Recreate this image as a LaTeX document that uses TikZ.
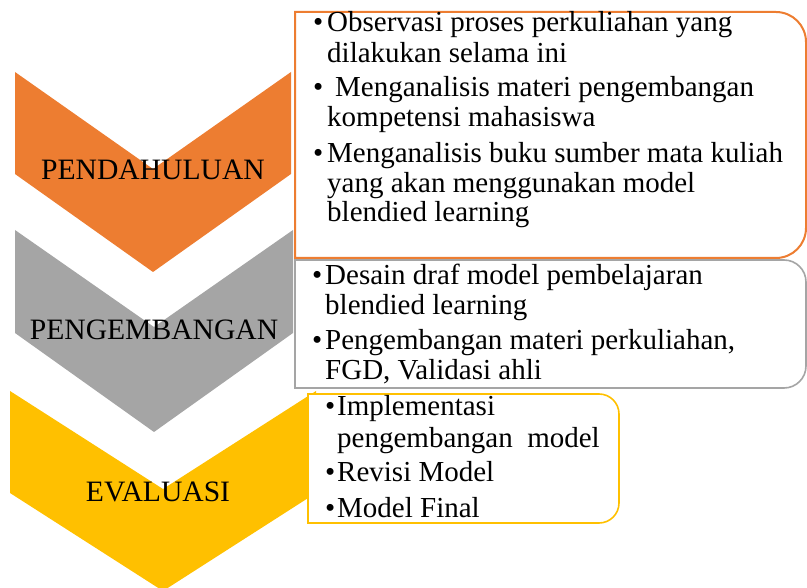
\documentclass[tikz,border=0pt]{standalone}
\usepackage{fontspec}
\setmainfont{Liberation Serif}
\definecolor{cOrange}{HTML}{ED7D31}
\definecolor{cGray}{HTML}{A5A5A5}
\definecolor{cYellow}{HTML}{FFC000}
\begin{document}
\begin{tikzpicture}[x=1pt,y=-1pt,
  txt/.style={inner sep=0pt,anchor=base west,font=\fontsize{29}{30}\selectfont},
  lbl/.style={inner sep=0pt,anchor=base,font=\fontsize{29.6}{30}\selectfont},
  bul/.style={inner sep=0pt,anchor=base west,font=\fontsize{29}{30}\selectfont}]
\useasboundingbox (0,0) rectangle (807,588);
% chevrons
\fill[cOrange] (15,72) -- (153,169) -- (291,72) -- (291,174) -- (153,272) -- (15,174) -- cycle;
\fill[cGray] (15,230) -- (154,327) -- (293,230) -- (293,333) -- (154,432) -- (15,333) -- cycle;
\fill[cYellow] (10,391) -- (163,489) -- (316,391) -- (316,493) -- (163,591) -- (10,493) -- cycle;
% boxes
\draw[cOrange,line width=2pt,fill=white] (295,258) -- (295,12) -- (776,12)
  arc[start angle=-90,end angle=0,radius=30] -- (806,228)
  arc[start angle=0,end angle=90,radius=30] -- cycle;
\draw[cGray,line width=1.6pt,fill=white] (295,388) -- (295,260) -- (784,260)
  arc[start angle=-90,end angle=0,radius=22] -- (806,366)
  arc[start angle=0,end angle=90,radius=22] -- cycle;
\draw[cYellow,line width=1.6pt,fill=white] (308,523) -- (308,394) -- (599,394)
  arc[start angle=-90,end angle=0,radius=20] -- (619,503)
  arc[start angle=0,end angle=90,radius=20] -- cycle;
% chevron labels
\node[lbl] (l1) at (153,180) {PENDAHULUAN};
\node[lbl] (l2) at (154,340) {PENGEMBANGAN};
\node[lbl] (l3) at (158,501) {EVALUASI};
% orange text
\node[bul] (ob1) at (313,32) {•};
\node[txt] (o1) at (327,32) {Observasi proses perkuliahan yang};
\node[txt] (o2) at (327,63) {dilakukan selama ini};
\node[bul] (ob2) at (313,97) {•};
\node[txt] (o3) at (335,97) {Menganalisis materi pengembangan};
\node[txt] (o4) at (327,127) {kompetensi mahasiswa};
\node[bul] (ob3) at (313,163) {•};
\node[txt] (o5) at (327,163) {Menganalisis buku sumber mata kuliah};
\node[txt] (o6) at (327,193) {yang akan menggunakan model};
\node[txt] (o7) at (327,222) {blendied learning};
% gray text
\node[bul] (gb1) at (312,285) {•};
\node[txt] (g1) at (325,285) {Desain draf model pembelajaran};
\node[txt] (g2) at (325,315) {blendied learning};
\node[bul] (gb2) at (312,350) {•};
\node[txt] (g3) at (325,350) {Pengembangan materi perkuliahan,};
\node[txt] (g4) at (325,380) {FGD, Validasi ahli};
% yellow text
\node[bul] (yb1) at (325,416) {•};
\node[txt] (y1) at (337,416) {Implementasi};
\node[txt] (y2) at (337,447) {pengembangan\hspace{0.5em}model};
\node[bul] (yb2) at (325,482) {•};
\node[txt] (y3) at (337,482) {Revisi Model};
\node[bul] (yb3) at (325,517) {•};
\node[txt] (y4) at (337,517) {Model Final};
\end{tikzpicture}
\end{document}
